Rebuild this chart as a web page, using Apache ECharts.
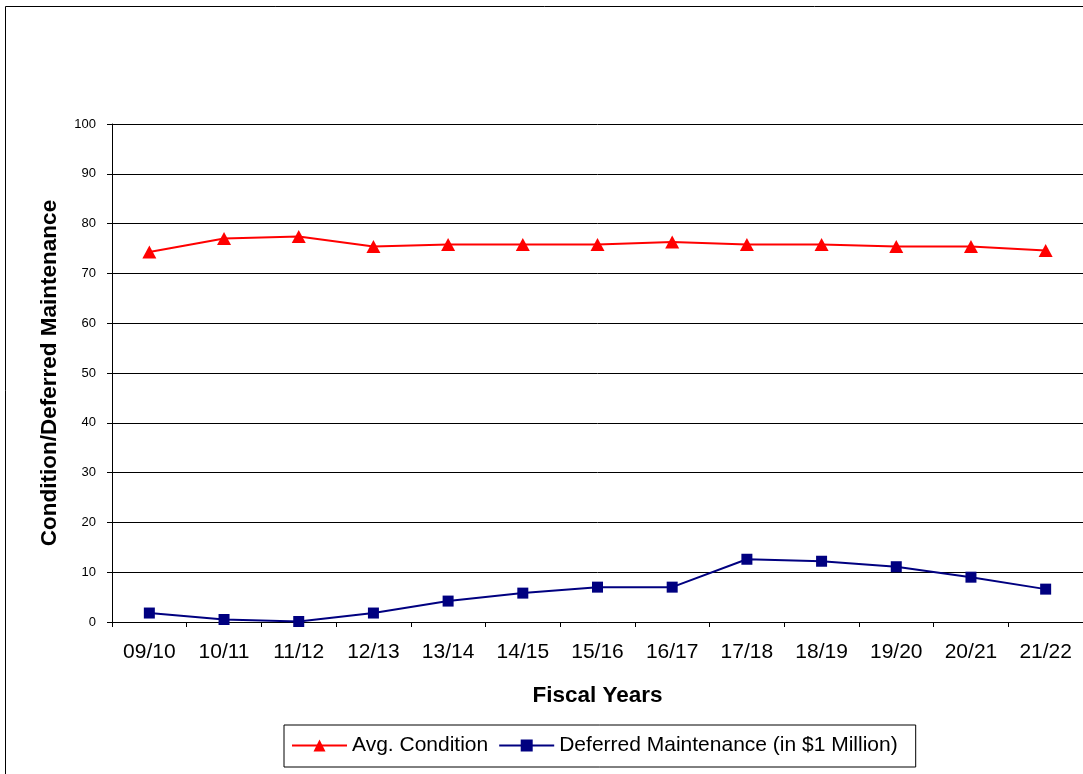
<!DOCTYPE html>
<html>
<head>
<meta charset="utf-8">
<style>
  html, body { margin: 0; padding: 0; background: #fff; }
  #chart { width: 1083px; height: 774px; }
</style>
<script src="https://cdn.jsdelivr.net/npm/echarts@6/dist/echarts.min.js"></script>
</head>
<body>
<div id="chart"></div>
<script>
// Fiscal years on the category axis
const fiscalYears = ['09/10', '10/11', '11/12', '12/13', '13/14', '14/15', '15/16',
                     '16/17', '17/18', '18/19', '19/20', '20/21', '21/22'];
// Average facility condition index
const avgCondition = [74.3, 77.0, 77.4, 75.4, 75.8, 75.8, 75.8, 76.3, 75.8, 75.8, 75.4, 75.4, 74.6];
// Deferred maintenance backlog, in $1 million
const deferredMaintenance = [1.8, 0.5, 0.1, 1.8, 4.2, 5.8, 7.0, 7.0, 12.6, 12.2, 11.1, 9.0, 6.6];
// Value axis ticks
const yMin = 0, yMax = 100, yStep = 10;

const font = 'Liberation Sans, Arial, sans-serif';
const chart = echarts.init(document.getElementById('chart'), null, { renderer: 'canvas' });

chart.setOption({
  animation: false,
  backgroundColor: '#ffffff',
  textStyle: { fontFamily: font, color: '#000' },
  graphic: [{
    type: 'rect',
    shape: { x: 5.5, y: 6.5, width: 1100, height: 800 },
    style: { fill: 'none', stroke: '#000', lineWidth: 1 },
    silent: true
  }],
  grid: { left: 112, top: 124, right: -8, bottom: 152, containLabel: false },
  legend: {
    left: 284, top: 725,
    padding: [10, 18, 11, 7],
    itemGap: 10,
    itemWidth: 55, itemHeight: 15,
    borderColor: '#000', borderWidth: 1,
    textStyle: { fontFamily: font, fontSize: 21, color: '#000' },
    data: ['Avg. Condition', 'Deferred Maintenance (in $1 Million)']
  },
  xAxis: {
    type: 'category',
    data: fiscalYears,
    boundaryGap: true,
    name: 'Fiscal Years',
    nameLocation: 'middle',
    nameGap: 62,
    nameTextStyle: { fontFamily: font, fontSize: 22.5, fontWeight: 'bold', color: '#000' },
    axisLine: { lineStyle: { color: '#000', width: 1 } },
    axisTick: { show: true, interval: 0, length: 5, inside: false, lineStyle: { color: '#000' } },
    axisLabel: { interval: 0, margin: 20, fontSize: 21, color: '#000', fontFamily: font },
    splitLine: { show: false }
  },
  yAxis: {
    type: 'value',
    min: yMin, max: yMax, interval: yStep,
    name: 'Condition/Deferred Maintenance',
    nameLocation: 'middle',
    nameRotate: 90,
    nameGap: 51,
    nameTextStyle: { fontFamily: font, fontSize: 22.5, fontWeight: 'bold', color: '#000' },
    axisLine: { show: true, lineStyle: { color: '#000', width: 1 } },
    axisTick: { show: true, length: 5, lineStyle: { color: '#000' } },
    axisLabel: { margin: 16, fontSize: 13, color: '#000', fontFamily: font },
    splitLine: { show: true, lineStyle: { color: '#000', width: 1 } }
  },
  series: [
    {
      name: 'Avg. Condition',
      type: 'line',
      data: avgCondition,
      symbol: 'triangle',
      symbolSize: [14, 13],
      itemStyle: { color: '#ff0000' },
      lineStyle: { color: '#ff0000', width: 2 },
      z: 3
    },
    {
      name: 'Deferred Maintenance (in $1 Million)',
      type: 'line',
      data: deferredMaintenance,
      symbol: 'rect',
      symbolSize: 11,
      itemStyle: { color: '#000080' },
      lineStyle: { color: '#000080', width: 2 },
      z: 3
    }
  ]
});
</script>
</body>
</html>
